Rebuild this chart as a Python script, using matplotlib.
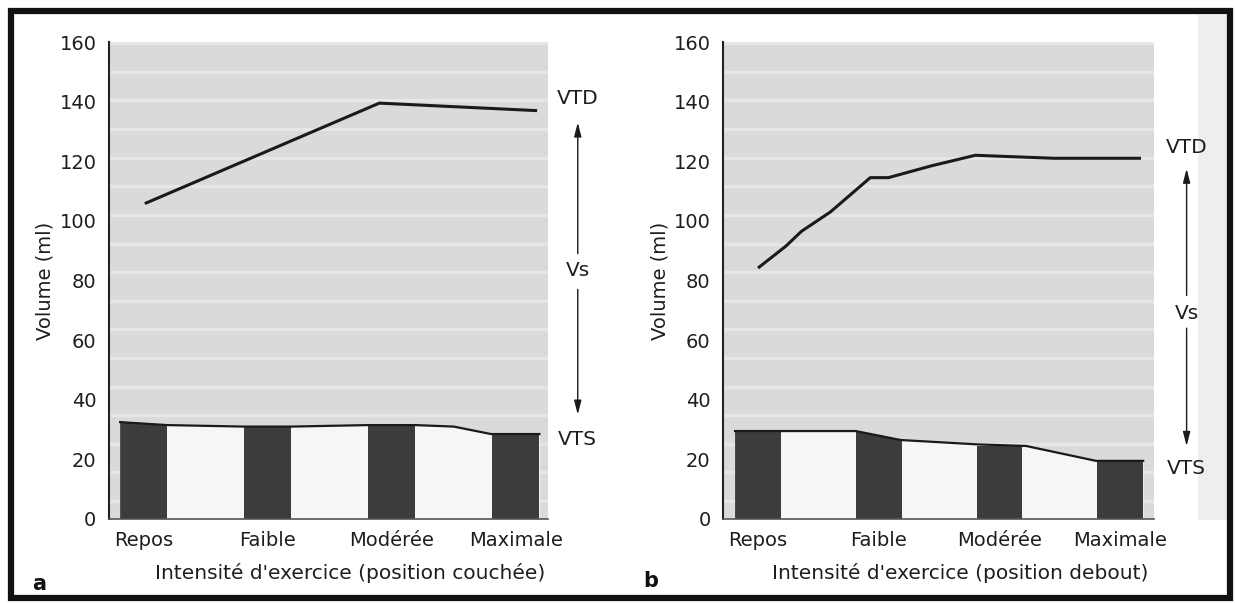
import numpy as np
import matplotlib
matplotlib.use("Agg")
import matplotlib.pyplot as plt
from matplotlib.patches import Rectangle

plt.rcParams['font.family'] = ['DejaVu Sans']

# ------------------------------------------------------------
# data
# ------------------------------------------------------------
CATEGORIES = ['Repos', 'Faible', 'Modérée', 'Maximale']
Y_TICKS = [0, 20, 40, 60, 80, 100, 120, 140, 160]

# a : position couchée
VTD_A_X = [0.02, 1.9, 3.16]
VTD_A = [106, 139.5, 137]
VTS_A_X = [-0.19, 0.19, 0.81, 1.19, 1.81, 2.19, 2.5, 2.8, 3.19]
VTS_A = [32.5, 31.5, 31, 31, 31.5, 31.5, 31, 28.5, 28.5]
BARS_A = [32.5, 31, 31.5, 28.5]

# b : position debout
VTD_B_X = [0.01, 0.23, 0.36, 0.6, 0.93, 1.08, 1.44, 1.8, 2.45, 3.16]
VTD_B = [84.5, 91.5, 96.5, 103, 114.5, 114.5, 118.5, 122, 121, 121]
VTS_B_X = [-0.19, 0.2, 0.81, 1.18, 1.83, 2.22, 2.8, 3.19]
VTS_B = [29.5, 29.5, 29.5, 26.5, 25, 24.5, 19.5, 19.5]
BARS_B = [29.5, 29.5, 24.5, 19.5]

XLABEL_A = "Intensité d'exercice (position couchée)"
XLABEL_B = "Intensité d'exercice (position debout)"
Y_LABEL = "Volume (ml)"

# ------------------------------------------------------------
# style
# ------------------------------------------------------------
W, H = 1236, 603
TEXT_COLOR = '#1e1e1e'
BG_COLOR = '#dadada'
STRIPE_COLOR = '#e6e6e6'
UNDER_COLOR = '#f6f6f6'
BAR_COLOR = '#3c3c3c'
LINE_COLOR = '#1a1a1a'
FS = 14
BAR_WIDTH = 0.38

fig = plt.figure(figsize=(W / 100, H / 100), dpi=100)
fig.patch.set_facecolor('white')


def px_axes(left, right, bottom, top):
    return fig.add_axes([left / W, 1 - bottom / H, (right - left) / W, (bottom - top) / H])


def draw_panel(ax, vtd_x, vtd, vts_x, vts, bars, xlabel, xlim, ann):
    ax.set_facecolor(BG_COLOR)
    # faint horizontal banding of the printed background
    for y in np.arange(6, 160, 9.6):
        ax.axhline(y, color=STRIPE_COLOR, lw=2.5, zorder=0.5)

    x = np.arange(len(CATEGORIES))
    under = ax.fill_between(vts_x, 0, vts, color=UNDER_COLOR, lw=0, zorder=1)
    rects = ax.bar(x, bars, width=BAR_WIDTH, color=BAR_COLOR, lw=0, zorder=2)
    clip = under.get_paths()[0]
    for r in rects:
        r.set_clip_path(clip, ax.transData)
    ax.plot(vts_x, vts, color=LINE_COLOR, lw=1.6, zorder=3, solid_joinstyle='round')
    ax.plot(vtd_x, vtd, color=LINE_COLOR, lw=2.2, zorder=3, solid_joinstyle='round')

    ax.set_xlim(*xlim)
    ax.set_ylim(0, 160)
    ax.set_xticks(x)
    ax.set_xticklabels(CATEGORIES)
    ax.set_yticks(Y_TICKS)
    ax.tick_params(length=0, labelsize=FS, colors=TEXT_COLOR)
    ax.tick_params(axis='x', pad=9)
    ax.tick_params(axis='y', pad=9)
    for s in ['top', 'right']:
        ax.spines[s].set_visible(False)
    ax.spines['left'].set_linewidth(1.5)
    ax.spines['left'].set_color('#222222')
    ax.spines['bottom'].set_linewidth(1.2)
    ax.spines['bottom'].set_color('#555555')

    ax.set_xlabel(xlabel, fontsize=14.5, color=TEXT_COLOR)
    ax.xaxis.label.set_va('center')
    ax.xaxis.set_label_coords(0.55, -0.113)
    ax.set_ylabel(Y_LABEL, fontsize=FS, color=TEXT_COLOR)
    ax.yaxis.label.set_va('center')
    ax.yaxis.set_label_coords(-0.146, 0.5)

    # VTD / Vs / VTS annotation
    ax_x, y_vtd, y_vs, y_vts, up0, up1, dn0, dn1 = ann
    for label, yy in [('VTD', y_vtd), ('Vs', y_vs), ('VTS', y_vts)]:
        ax.text(ax_x, yy, label, ha='center', va='center', fontsize=14.5,
                color=TEXT_COLOR, clip_on=False)
    arrow = dict(arrowstyle='-|>,head_length=0.7,head_width=0.18', lw=1.0,
                 color=LINE_COLOR, shrinkA=0, shrinkB=0, mutation_scale=12)
    ax.annotate('', xy=(ax_x, up1), xytext=(ax_x, up0), arrowprops=arrow,
                annotation_clip=False)
    ax.annotate('', xy=(ax_x, dn1), xytext=(ax_x, dn0), arrowprops=arrow,
                annotation_clip=False)


ax_a = px_axes(109, 548, 519, 42)
draw_panel(ax_a, VTD_A_X, VTD_A, VTS_A_X, VTS_A, BARS_A, XLABEL_A,
           (-0.28, 3.26), (3.5, 141, 83.5, 26.6, 89, 133, 77, 35))

ax_b = px_axes(723, 1154, 519, 42)
draw_panel(ax_b, VTD_B_X, VTD_B, VTS_B_X, VTS_B, BARS_B, XLABEL_B,
           (-0.29, 3.28), (3.55, 124.6, 69, 16.8, 75, 117.5, 64, 24.5))

# panel letters
fig.text(39 / W, 1 - 584 / H, 'a', fontsize=15, fontweight='bold', ha='center', va='center',
         color='#111111')
fig.text(651 / W, 1 - 581 / H, 'b', fontsize=15, fontweight='bold', ha='center', va='center',
         color='#111111')

# scan shading on the right and outer frame
fig.add_artist(Rectangle((1198 / W, 1 - 520 / H), 29 / W, 505 / H, transform=fig.transFigure,
                         facecolor='#eeeeee', edgecolor='none', zorder=0))
fig.add_artist(Rectangle((11 / W, 1 - 598 / H), (1230 - 11) / W, (598 - 11) / H,
                         transform=fig.transFigure, fill=False, lw=4.5, edgecolor='#111111'))

fig.savefig('out.png', dpi=100)
